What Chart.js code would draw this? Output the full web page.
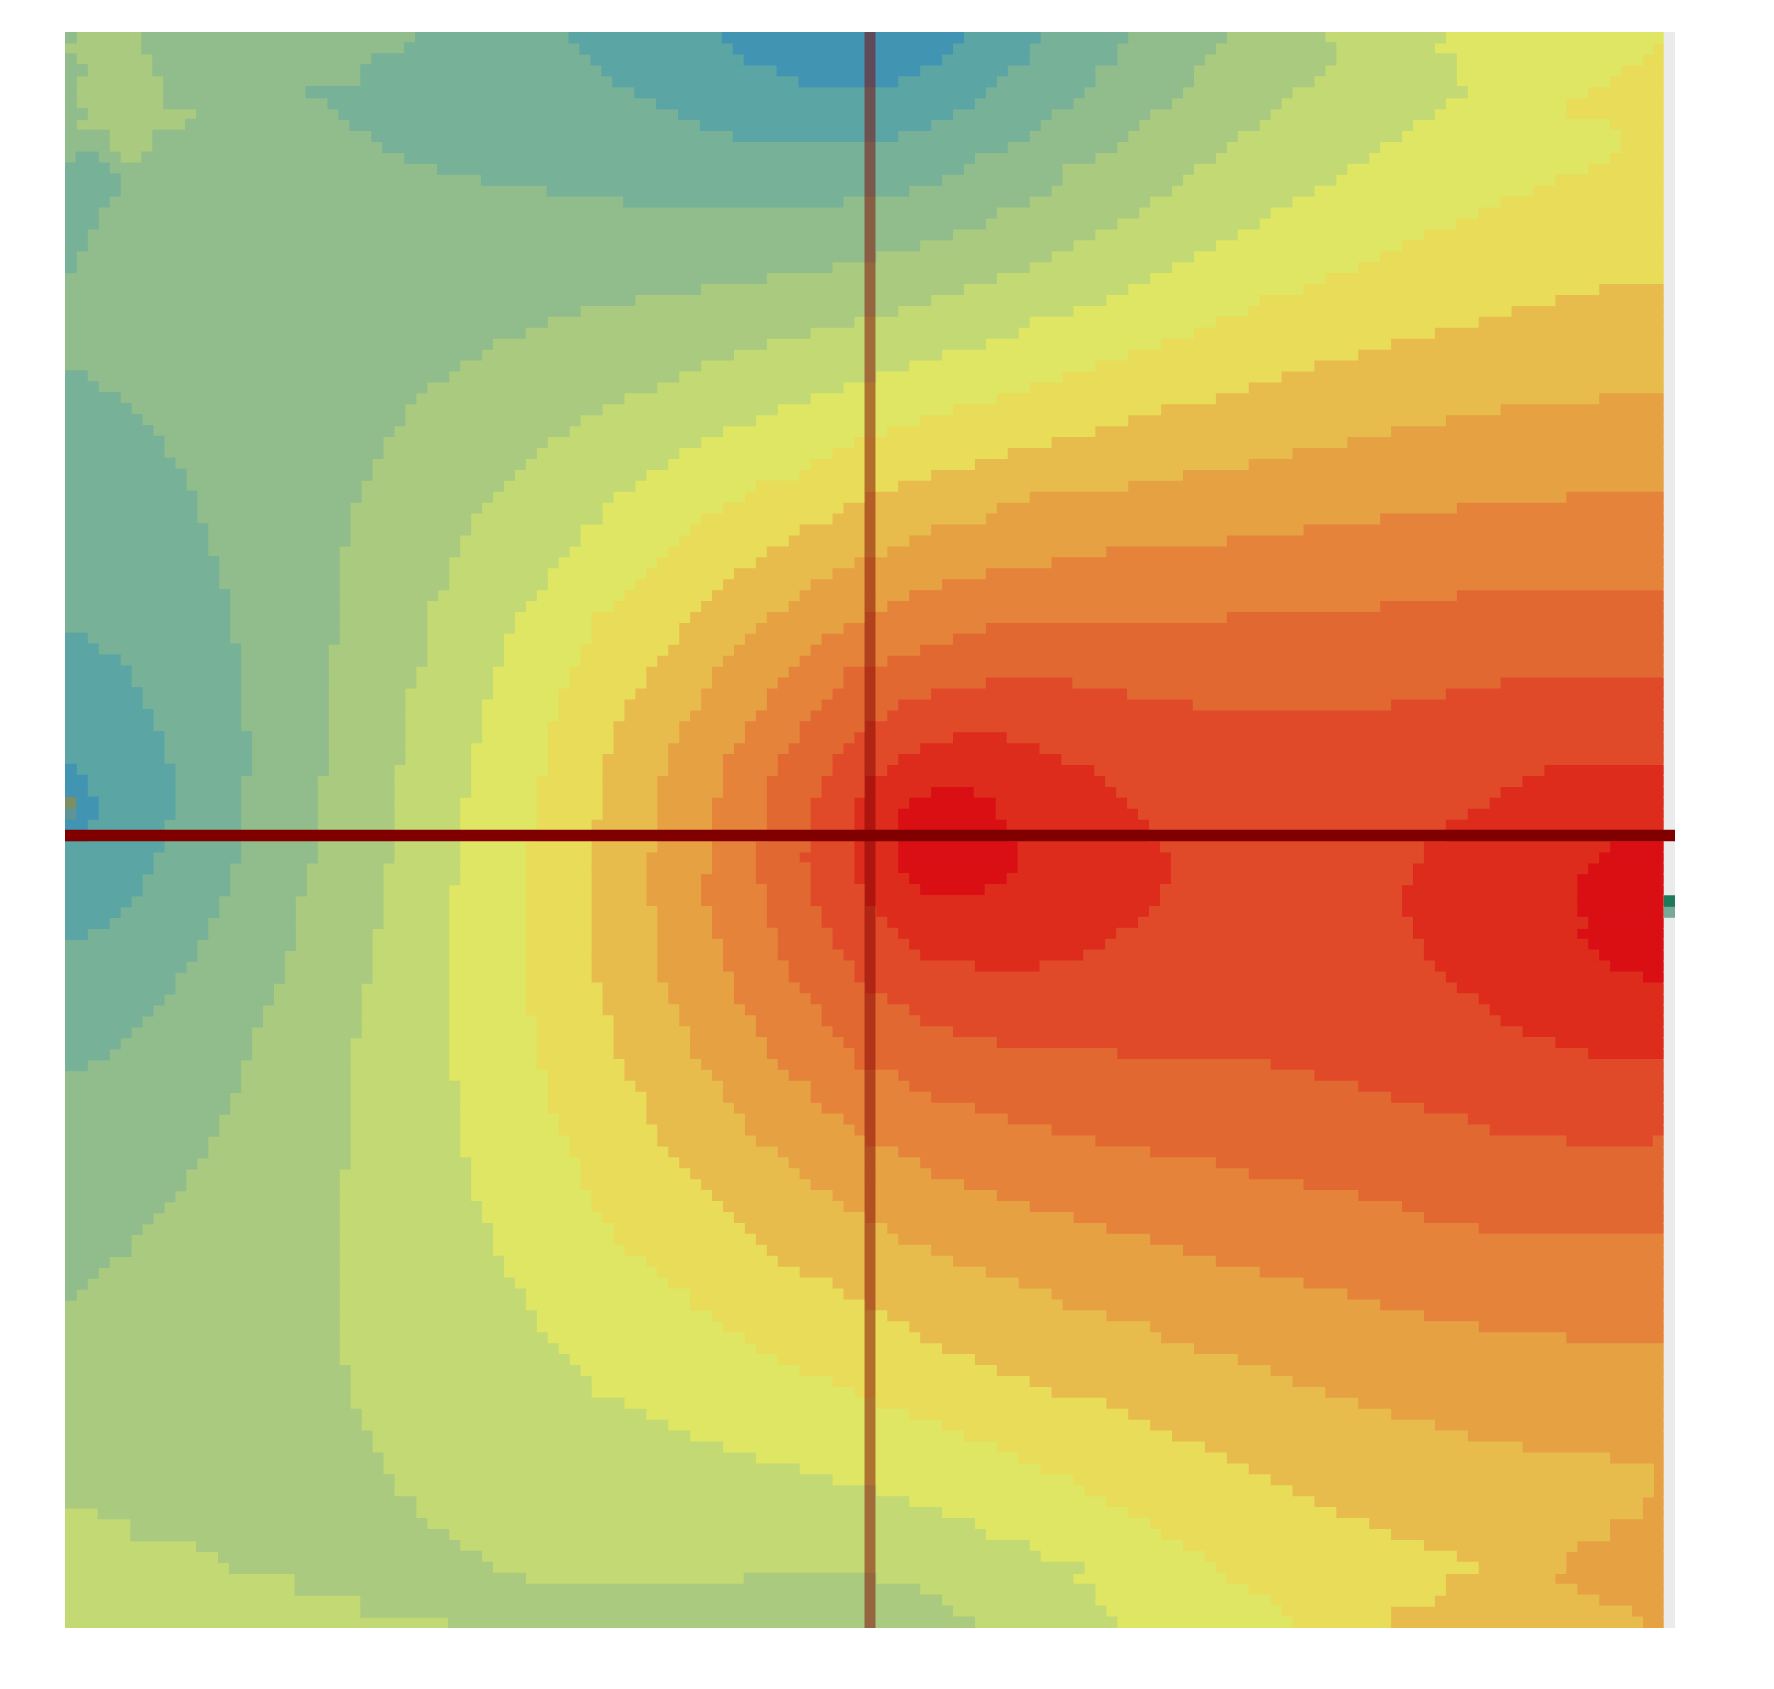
<!DOCTYPE html>
<html>
<head>
<meta charset="utf-8">
<style>html,body{margin:0;padding:0;background:#fff}canvas{display:block}</style>
<script src="https://cdn.jsdelivr.net/npm/chart.js@4/dist/chart.umd.js"></script>
</head>
<body>
<canvas id="c" width="1774" height="1689"></canvas>
<script>
const bandColors = ["#4195b3","#5ba5a4","#76b198","#90bd8b","#a9ca7f","#c3d973","#dee663","#e9dc59","#e7bc4d","#e6a143","#e5833b","#e26832","#e04a28","#dd2b1c","#d90f14"];
const columnCount = 147;
const rowCount = 146;
const noDataColor = "#ebebeb";
const crossCol = 73;
const crossRow = 73;
const markRows = [70,71,79,80];
const markCols = [0,0,146,146];
const markColors = ["#7a8f66","#5f9496","#1f7a5c","#78a898"];
// every string is one grid row: band, end column, band, end column ...
const rowRuns = [
"3 1 4 7 3 32 2 46 1 60 0 82 1 89 2 97 3 106 4 115 5 126 6 146",
"4 7 3 31 2 47 1 61 0 81 1 88 2 96 3 105 4 116 5 125 6 145 7 146",
"3 1 4 8 3 28 2 48 1 62 0 80 1 88 2 96 3 104 4 116 5 127 6 144 7 146",
"3 2 4 8 3 27 2 49 1 65 0 78 1 86 2 94 3 103 4 115 5 127 6 142 7 146",
"3 1 4 9 3 27 2 50 1 67 0 76 1 85 2 94 3 103 4 114 5 127 6 141 7 146",
"3 1 4 9 3 22 2 52 1 84 2 93 3 102 4 112 5 128 6 139 7 146",
"3 1 4 9 3 24 2 54 1 83 2 92 3 101 4 111 5 126 6 137 7 146",
"3 2 4 12 3 25 2 56 1 81 2 90 3 99 4 110 5 125 6 137 7 146",
"3 1 4 11 3 26 2 58 1 79 2 89 3 98 4 109 5 123 6 141 7 146",
"3 4 4 8 3 28 2 61 1 76 2 88 3 97 4 107 5 122 6 142 7 146",
"3 4 4 8 3 29 2 86 3 96 4 106 5 120 6 142 7 146",
"3 1 2 3 3 5 4 7 3 31 2 83 3 94 4 105 5 119 6 141 7 146",
"2 4 3 34 2 82 3 91 4 103 5 117 6 139 7 146",
"2 5 3 38 2 80 3 91 4 102 5 116 6 136 7 146",
"2 5 3 44 2 77 3 90 4 101 5 114 6 134 7 146",
"2 4 3 51 2 71 3 88 4 99 5 112 6 131 7 146",
"2 3 3 85 4 98 5 110 6 129 7 146",
"2 3 3 84 4 96 5 109 6 127 7 146",
"2 2 3 81 4 94 5 107 6 124 7 146",
"2 2 3 78 4 92 5 105 6 122 7 146",
"2 1 3 74 4 90 5 103 6 120 7 146",
"2 1 3 70 4 88 5 101 6 118 7 146",
"3 64 4 85 5 99 6 115 7 146",
"3 58 4 82 5 97 6 113 7 140 8 146",
"3 52 4 79 5 95 6 109 7 136 8 146",
"3 47 4 76 5 92 6 108 7 132 8 146",
"3 44 4 72 5 88 6 105 7 129 8 146",
"3 42 4 68 5 87 6 103 7 125 8 146",
"3 39 4 64 5 84 6 100 7 121 8 146",
"3 38 4 61 5 80 6 97 7 118 8 146",
"3 36 4 58 5 77 6 94 7 114 8 146",
"2 2 3 35 4 56 5 74 6 91 7 111 8 146",
"2 3 3 33 4 54 5 71 6 88 7 108 8 146",
"2 5 3 32 4 51 5 68 6 85 7 105 8 140 9 146",
"2 6 3 31 4 49 5 65 6 81 7 100 8 131 9 146",
"2 7 3 31 4 47 5 63 6 78 7 97 8 126 9 146",
"2 8 3 30 4 46 5 60 6 75 7 94 8 121 9 146",
"2 9 3 29 4 44 5 58 6 72 7 90 8 117 9 146",
"2 9 3 29 4 43 5 56 6 70 7 86 8 112 9 146",
"2 10 3 28 4 42 5 55 6 68 7 83 8 108 9 146",
"2 11 3 28 4 41 5 53 6 67 7 79 8 102 9 146",
"2 11 3 27 4 40 5 52 6 63 7 76 8 97 9 146",
"2 12 3 27 4 39 5 50 6 62 7 73 8 88 9 137 10 146",
"2 12 3 26 4 38 5 49 6 60 7 71 8 85 9 127 10 146",
"2 12 3 26 4 37 5 49 6 58 7 70 8 84 9 120 10 146",
"2 13 3 26 4 37 5 47 6 57 7 67 8 79 9 113 10 146",
"2 13 3 26 4 36 5 47 6 56 7 66 8 77 9 106 10 146",
"2 13 3 25 4 36 5 46 6 55 7 64 8 75 9 95 10 146",
"2 14 3 25 4 35 5 45 6 54 7 63 8 72 9 90 10 146",
"2 14 3 25 4 35 5 44 6 53 7 61 8 70 9 84 10 146",
"2 14 3 25 4 35 5 44 6 52 7 60 8 68 9 80 10 146",
"2 15 3 25 4 34 5 43 6 51 7 59 8 67 9 77 10 127 11 146",
"2 15 3 25 4 33 5 42 6 50 7 58 8 66 9 75 10 120 11 146",
"2 15 3 25 4 33 5 41 6 48 7 57 8 64 9 73 10 106 11 146",
"2 15 3 25 4 33 5 41 6 48 7 56 8 63 9 71 10 84 11 146",
"1 2 2 15 3 25 4 33 5 40 6 48 7 56 8 62 9 69 10 81 11 146",
"1 3 2 16 3 24 4 33 5 40 6 47 7 55 8 61 9 68 10 78 11 146",
"1 5 2 16 3 24 4 33 5 40 6 47 7 54 8 60 9 67 10 75 11 146",
"1 6 2 16 3 24 4 32 5 39 6 46 7 53 8 59 9 66 10 71 11 146",
"1 6 2 16 3 24 4 32 5 39 6 46 7 53 8 59 9 65 10 71 11 84 12 92 11 131 12 146",
"1 7 2 16 3 24 4 31 5 39 6 45 7 52 8 58 9 64 10 70 11 79 12 97 11 126 12 146",
"1 7 2 16 3 24 4 31 5 38 6 45 7 51 8 58 9 64 10 69 11 76 12 103 11 121 12 146",
"1 8 2 16 3 24 4 31 5 38 6 45 7 51 8 57 9 63 10 68 11 75 12 146",
"1 8 2 16 3 24 4 31 5 38 6 44 7 50 8 56 9 62 10 67 11 73 12 146",
"1 9 2 17 3 24 4 31 5 38 6 44 7 50 8 56 9 62 10 67 11 72 12 81 13 86 12 146",
"1 9 2 17 3 24 4 31 5 37 6 44 7 50 8 55 9 61 10 66 11 71 12 78 13 89 12 146",
"1 9 2 17 3 24 4 31 5 37 6 44 7 49 8 55 9 60 10 65 11 70 12 76 13 91 12 146",
"0 1 1 10 2 17 3 24 4 30 5 37 6 44 7 49 8 55 9 60 10 65 11 70 12 75 13 94 12 135 13 146",
"0 2 1 10 2 16 3 23 4 30 5 37 6 43 7 49 8 54 9 60 10 64 11 69 12 73 13 95 12 133 13 146",
"0 2 1 10 2 16 3 23 4 30 5 37 6 43 7 49 8 54 9 60 10 64 11 69 12 73 13 79 14 83 13 96 12 131 13 146",
"0 3 1 10 2 16 3 23 4 30 5 36 6 43 7 49 8 54 9 59 10 64 11 68 12 72 13 77 14 85 13 97 12 130 13 146",
"0 3 1 10 2 16 3 23 4 30 5 36 6 43 7 49 8 54 9 59 10 64 11 68 12 72 13 76 14 85 13 98 12 128 13 146",
"0 2 1 9 2 16 3 23 4 30 5 36 6 43 7 48 8 54 9 59 10 64 11 68 12 72 13 76 14 86 13 99 12 126 13 146",
"0 2 1 9 2 16 3 23 4 30 5 36 6 43 7 48 8 54 9 59 10 64 11 68 12 72 13 76 14 86 13 99 12 126 13 146",
"1 9 2 16 3 23 4 30 5 36 6 42 7 48 8 54 9 59 10 63 11 68 12 72 13 76 14 87 13 100 12 124 13 141 14 146",
"1 8 2 16 3 23 4 30 5 36 6 42 7 48 8 53 9 59 10 63 11 67 12 72 13 76 14 87 13 101 12 124 13 140 14 146",
"1 8 2 15 3 22 4 29 5 36 6 42 7 48 8 53 9 59 10 63 11 68 12 72 13 76 14 87 13 101 12 123 13 139 14 146",
"1 7 2 15 3 22 4 29 5 36 6 42 7 48 8 53 9 58 10 63 11 68 12 72 13 77 14 86 13 101 12 123 13 138 14 146",
"1 7 2 15 3 22 4 29 5 35 6 42 7 48 8 53 9 58 10 64 11 68 12 73 13 78 14 84 13 100 12 122 13 138 14 146",
"1 6 2 14 3 21 4 29 5 35 6 42 7 48 8 53 9 58 10 64 11 68 12 73 13 100 12 122 13 138 14 146",
"1 5 2 14 3 21 4 29 5 35 6 42 7 48 8 54 9 59 10 64 11 69 12 74 13 99 12 122 13 138 14 146",
"1 4 2 13 3 21 4 29 5 35 6 42 7 48 8 54 9 59 10 64 11 69 12 75 13 98 12 123 13 139 14 146",
"1 2 2 13 3 21 4 28 5 35 6 42 7 48 8 54 9 59 10 65 11 70 12 76 13 96 12 123 13 138 14 146",
"2 12 3 21 4 28 5 35 6 42 7 48 8 54 9 60 10 65 11 70 12 77 13 95 12 124 13 139 14 146",
"2 12 3 20 4 28 5 35 6 42 7 48 8 54 9 60 10 65 11 71 12 78 13 93 12 124 13 140 14 146",
"2 11 3 20 4 28 5 35 6 42 7 48 8 54 9 60 10 66 11 72 12 83 13 89 12 125 13 141 14 146",
"2 10 3 20 4 28 5 35 6 42 7 48 8 54 9 61 10 66 11 72 12 126 13 144 14 146",
"2 10 3 19 4 27 5 35 6 42 7 49 8 55 9 61 10 67 11 73 12 127 13 146",
"2 9 3 19 4 27 5 35 6 42 7 49 8 55 9 61 10 68 11 75 12 129 13 146",
"2 8 3 18 4 27 5 35 6 42 7 49 8 56 9 62 10 69 11 77 12 130 13 146",
"2 7 3 18 4 27 5 35 6 43 7 50 8 56 9 63 10 69 11 78 12 131 13 146",
"2 6 3 17 4 27 5 35 6 43 7 50 8 57 9 63 10 70 11 81 12 133 13 146",
"2 5 3 17 4 26 5 35 6 43 7 50 8 57 9 64 10 71 11 85 12 136 13 146",
"2 4 3 17 4 26 5 35 6 43 7 50 8 57 9 64 10 72 11 96 12 139 13 146",
"2 2 3 16 4 26 5 35 6 43 7 51 8 58 9 65 10 72 11 110 12 146",
"3 16 4 26 5 35 6 44 7 51 8 59 9 66 10 76 11 114 12 146",
"3 16 4 26 5 36 6 44 7 52 8 60 9 68 10 77 11 118 12 146",
"3 15 4 26 5 36 6 44 7 53 8 60 9 68 10 79 11 121 12 146",
"3 15 4 26 5 36 6 44 7 53 8 61 9 69 10 83 11 124 12 146",
"3 14 4 26 5 36 6 45 7 53 8 62 9 71 10 86 11 128 12 146",
"3 14 4 26 5 36 6 45 7 54 8 62 9 72 10 90 11 130 12 146",
"3 13 4 26 5 36 6 46 7 54 8 63 9 73 10 94 11 137 12 145 11 146",
"3 13 4 26 5 36 6 46 7 55 8 65 9 76 10 99 11 146",
"3 12 4 26 5 37 6 47 7 56 8 66 9 78 10 105 11 146",
"3 11 4 25 5 37 6 47 7 57 8 67 9 79 10 108 11 146",
"3 11 4 25 5 37 6 47 7 58 8 68 9 82 10 113 11 146",
"3 10 4 25 5 37 6 48 7 59 8 70 9 85 10 118 11 146",
"3 9 4 25 5 38 6 48 7 60 8 71 9 88 10 122 11 146",
"3 8 4 25 5 38 6 49 7 61 8 73 9 92 10 124 11 146",
"3 7 4 25 5 39 6 50 7 62 8 75 9 95 10 129 11 146",
"3 6 4 25 5 39 6 50 7 63 8 76 9 99 10 146",
"3 6 4 25 5 39 6 51 7 64 8 79 9 102 10 146",
"3 4 4 25 5 40 6 53 7 65 8 81 9 105 10 146",
"3 3 4 25 5 40 6 54 7 67 8 84 9 109 10 146",
"3 2 4 25 5 41 6 55 7 70 8 87 9 113 10 146",
"3 1 4 25 5 42 6 57 7 71 8 90 9 117 10 146",
"4 25 5 42 6 57 7 73 8 91 9 120 10 146",
"4 25 5 43 6 59 7 75 8 95 9 124 10 146",
"4 25 5 43 6 60 7 77 8 99 9 129 10 146",
"4 25 5 44 6 62 7 78 8 100 9 137 10 146",
"4 25 5 45 6 63 7 80 8 103 9 146",
"4 25 5 46 6 65 7 83 8 107 9 146",
"4 26 5 47 6 67 7 85 8 110 9 146",
"4 26 5 48 6 70 7 88 8 112 9 146",
"4 26 5 48 6 72 7 90 8 115 9 146",
"4 26 5 51 6 74 7 95 8 118 9 146",
"4 27 5 53 6 77 7 97 8 121 9 146",
"4 27 5 55 6 80 7 99 8 125 9 146",
"4 28 5 57 6 82 7 101 8 128 9 146",
"4 28 5 60 6 85 7 104 8 133 9 146",
"4 29 5 63 6 87 7 106 8 141 9 146",
"4 29 5 67 6 89 7 108 8 145 9 146",
"4 30 5 70 6 92 7 110 8 145 9 146",
"4 30 5 74 6 93 7 112 8 145 9 146",
"4 32 5 77 6 95 7 114 8 144 9 146",
"5 3 4 32 5 80 6 97 7 116 8 144 9 146",
"5 6 4 33 5 83 6 99 7 119 8 141 9 146",
"5 6 4 35 5 84 6 100 7 121 8 141 9 146",
"5 12 4 36 5 88 6 102 7 124 8 138 9 146",
"5 14 4 38 5 89 6 104 7 127 8 137 9 146",
"5 15 4 39 5 93 6 105 7 129 8 137 9 146",
"5 21 4 42 5 62 4 74 5 92 6 106 7 126 8 136 9 146",
"5 21 4 78 5 94 6 108 7 126 8 138 9 146",
"5 27 4 80 5 94 6 110 7 125 8 140 9 146",
"5 27 4 81 5 95 6 111 7 121 8 143 9 146",
"5 35 4 83 5 96 6 112 7 121 8 144 9 146"
];

const plot = {left:65, right:1675, top:32, bottom:1628};
const cellH = (plot.bottom-plot.top)/rowCount;
const seam = 0.05;

const bandData = bandColors.map(()=>[]);
const noData = [];
rowRuns.forEach((text,i)=>{
  const nums = text.trim().split(/\s+/).map(Number);
  const y = i + 0.5;
  let start = 0;
  for (let k=0;k<nums.length;k+=2){
    bandData[nums[k]].push({x:[start, nums[k+1]+seam], y});
    start = nums[k+1];
  }
  noData.push({x:[146, columnCount], y});
});

const datasets = [];
datasets.push({label:'row line', data:[{x:[0,columnCount], y:crossRow+0.5}], backgroundColor:'#800000', barThickness:cellH, order:-2});
datasets.push({type:'line', label:'column line', data:[{x:crossCol+0.5,y:0},{x:crossCol+0.5,y:rowCount}], borderColor:'rgba(128,0,0,0.5)', borderWidth:(plot.right-plot.left)/columnCount, pointRadius:0, borderCapStyle:'butt', fill:false, tension:0, order:-1});
markRows.forEach((r,i)=>datasets.push({label:'mark'+i, data:[{x:[markCols[i],markCols[i]+1], y:r+0.5}], backgroundColor:markColors[i], barThickness:cellH, order:0}));
datasets.push({label:'no data', data:noData, backgroundColor:noDataColor, barThickness:cellH+0.6, order:1});
bandColors.forEach((color,b)=>datasets.push({label:'band'+b, data:bandData[b], backgroundColor:color, barThickness:cellH+0.6, order:2}));

new Chart(document.getElementById('c'),{
  type:'bar',
  data:{datasets},
  options:{
    indexAxis:'y',
    responsive:false,
    animation:false,
    events:[],
    datasets:{bar:{grouped:false,barPercentage:1,categoryPercentage:1,borderWidth:0}},
    layout:{padding:{left:plot.left,right:1774-plot.right,top:plot.top,bottom:1689-plot.bottom}},
    plugins:{legend:{display:false},title:{display:false},tooltip:{enabled:false}},
    scales:{
      x:{type:'linear',min:0,max:columnCount,display:false,offset:false},
      y:{type:'linear',min:0,max:rowCount,reverse:true,display:false,offset:false}
    }
  }
});
</script>
</body>
</html>
